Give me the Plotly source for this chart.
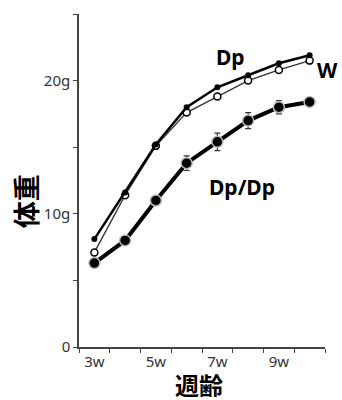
import plotly.graph_objects as go

weeks = [3, 4, 5, 6, 7, 8, 9, 10]
dp = [8.1, 11.6, 15.2, 18.0, 19.5, 20.4, 21.3, 21.9]
w = [7.1, 11.4, 15.1, 17.6, 18.8, 20.0, 20.8, 21.5]
dpdp = [6.3, 8.0, 11.0, 13.8, 15.4, 17.0, 18.0, 18.4]
dpdp_err = [0.2, 0.2, 0.3, 0.55, 0.65, 0.6, 0.5, 0.3]

x_label_vals = [3, 5, 7, 9]
x_label_text = ["3w", "5w", "7w", "9w"]
x_boundaries = [2.5, 3.5, 4.5, 5.5, 6.5, 7.5, 8.5, 9.5, 10.5]
y_tick_vals = [0, 5, 10, 15, 20, 25]
y_tick_text = ["0", "", "10g", "", "20g", ""]

fig = go.Figure()
fig.add_trace(go.Scatter(
    x=weeks, y=dpdp, mode="lines+markers",
    line=dict(color="black", width=4),
    marker=dict(size=11, color="black", line=dict(color="#bbbbbb", width=1.5)),
    error_y=dict(type="data", array=dpdp_err, color="#333333", thickness=1.2, width=3),
    showlegend=False))
fig.add_trace(go.Scatter(
    x=weeks, y=w, mode="lines+markers",
    line=dict(color="#333333", width=1.3),
    marker=dict(size=7, color="white", line=dict(color="black", width=1.5)),
    showlegend=False))
fig.add_trace(go.Scatter(
    x=weeks, y=dp, mode="lines+markers",
    line=dict(color="black", width=2.5),
    marker=dict(size=6, color="black"),
    showlegend=False))

bold = dict(family="Noto Sans", size=21, color="black")
fig.add_annotation(x=7.44, y=21.8, text="<b>Dp</b>", showarrow=False, font=bold,
                   xanchor="center", yanchor="middle")
fig.add_annotation(x=7.8, y=12.0, text="<b>Dp/Dp</b>", showarrow=False, font=bold,
                   xanchor="center", yanchor="middle")
fig.add_annotation(xref="paper", yref="paper", x=1.012, y=0.832, text="<b>W</b>",
                   showarrow=False, font=bold, xanchor="center", yanchor="middle")

cjk = dict(family="Noto Sans CJK JP", size=24, color="black")
fig.add_annotation(xref="paper", yref="paper", x=0.488, y=-0.111, text="<b>週齢</b>",
                   showarrow=False, font=cjk, xanchor="center", yanchor="middle",
                   height=26, valign="middle")
fig.add_annotation(xref="paper", yref="paper", x=-0.2195, y=0.438, text="<b>体重</b>",
                   showarrow=False, font=dict(family="Noto Sans CJK JP", size=27, color="black"),
                   textangle=-90, xanchor="center", yanchor="middle")

fig.update_layout(
    width=342, height=400,
    margin=dict(l=79, r=17, t=14, b=53),
    plot_bgcolor="white", paper_bgcolor="white",
    font=dict(family="Noto Sans", size=15, color="#333333"),
    xaxis=dict(range=[2.5, 10.5], tickvals=x_label_vals, ticktext=x_label_text,
               ticks="", showgrid=False, zeroline=False, showline=True,
               linecolor="#444444", linewidth=1.5, ticklabelstandoff=0,
               minor=dict(tickvals=x_boundaries, ticks="outside", ticklen=4,
                          tickcolor="#444444", tickwidth=1.2, showgrid=False)),
    yaxis=dict(range=[0, 25], tickvals=y_tick_vals, ticktext=y_tick_text,
               ticks="outside", ticklen=4, tickcolor="#444444", tickwidth=1.2,
               showgrid=False, zeroline=False, showline=True,
               linecolor="#444444", linewidth=1.5),
)

fig.write_html("out.html", config={"displayModeBar": False},
               post_script="document.body.style.margin='0';")
